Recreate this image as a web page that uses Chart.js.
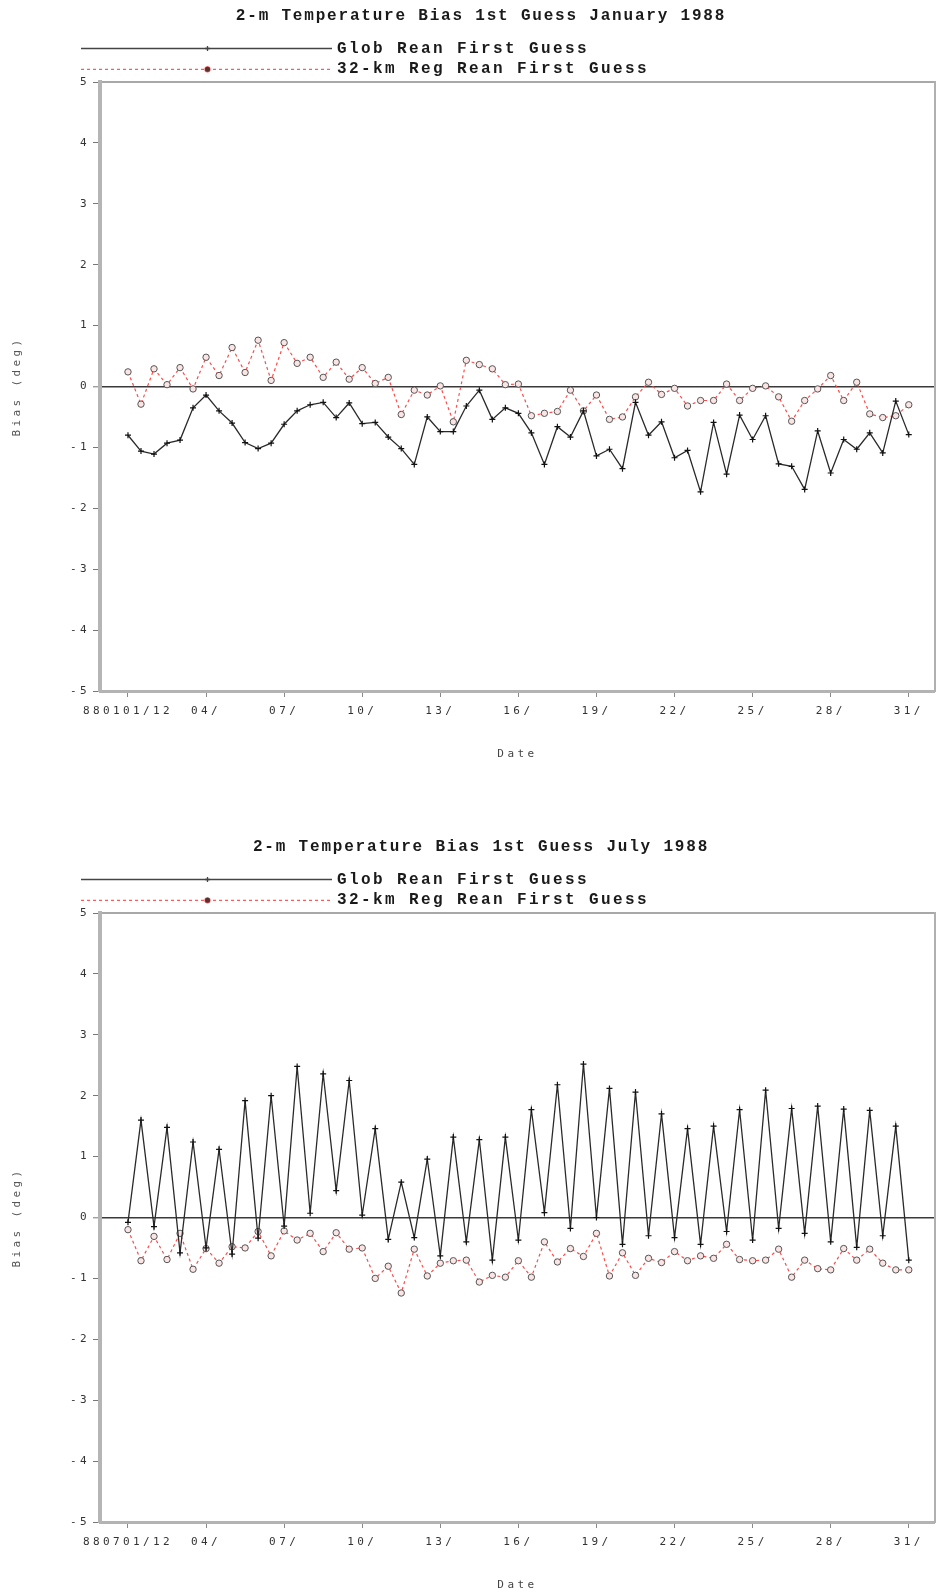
<!DOCTYPE html>
<html>
<head>
<meta charset="utf-8">
<title>2-m Temperature Bias 1st Guess 1988</title>
<script src="https://cdn.jsdelivr.net/npm/chart.js@4.4.0/dist/chart.umd.min.js"></script>
<style>
  html, body { margin: 0; padding: 0; background: #fff; overflow: hidden; }
  .panel { position: relative; width: 940px; height: 831px; }
</style>
</head>
<body>
<div class="panel"><canvas id="janChart" width="940" height="831"></canvas></div>
<div class="panel"><canvas id="julChart" width="940" height="831"></canvas></div>
<script>
// twice-daily values (00Z/12Z), starting at day 01 12Z
const janTickLabels = ['880101/12', '04/', '07/', '10/', '13/', '16/', '19/', '22/', '25/', '28/', '31/'];
const julTickLabels = ['880701/12', '04/', '07/', '10/', '13/', '16/', '19/', '22/', '25/', '28/', '31/'];
const seriesNames = ['Glob Rean First Guess', '32-km Reg Rean First Guess'];

const janGlob = [-0.80, -1.06, -1.11, -0.93, -0.88, -0.35, -0.14, -0.40, -0.60, -0.92,
                 -1.02, -0.93, -0.62, -0.40, -0.30, -0.26, -0.51, -0.27, -0.61, -0.59,
                 -0.83, -1.02, -1.28, -0.50, -0.74, -0.74, -0.32, -0.06, -0.54, -0.35,
                 -0.44, -0.76, -1.28, -0.66, -0.83, -0.40, -1.14, -1.03, -1.35, -0.26,
                 -0.80, -0.58, -1.17, -1.05, -1.73, -0.59, -1.44, -0.47, -0.87, -0.48,
                 -1.27, -1.31, -1.69, -0.73, -1.42, -0.87, -1.03, -0.76, -1.09, -0.24, -0.79];
const janReg = [0.24, -0.29, 0.29, 0.03, 0.31, -0.04, 0.48, 0.18, 0.64, 0.23,
                0.76, 0.10, 0.72, 0.38, 0.48, 0.15, 0.40, 0.12, 0.31, 0.05,
                0.15, -0.46, -0.06, -0.14, 0.01, -0.58, 0.43, 0.36, 0.29, 0.03,
                0.04, -0.48, -0.44, -0.41, -0.06, -0.40, -0.14, -0.54, -0.50, -0.17,
                0.07, -0.13, -0.03, -0.32, -0.23, -0.23, 0.04, -0.23, -0.03, 0.01,
                -0.17, -0.57, -0.23, -0.04, 0.18, -0.23, 0.07, -0.45, -0.51, -0.48, -0.30];

const julGlob = [-0.08, 1.60, -0.15, 1.48, -0.58, 1.24, -0.50, 1.12, -0.60, 1.92,
                 -0.34, 2.00, -0.14, 2.48, 0.07, 2.36, 0.44, 2.25, 0.04, 1.46,
                 -0.36, 0.58, -0.33, 0.96, -0.63, 1.32, -0.40, 1.28, -0.70, 1.32,
                 -0.37, 1.77, 0.08, 2.18, -0.18, 2.52, 0.00, 2.12, -0.44, 2.06,
                 -0.30, 1.70, -0.33, 1.46, -0.44, 1.50, -0.23, 1.77, -0.37, 2.09,
                 -0.18, 1.79, -0.26, 1.83, -0.40, 1.78, -0.49, 1.76, -0.30, 1.50, -0.70];
const julReg = [-0.20, -0.71, -0.31, -0.69, -0.26, -0.85, -0.51, -0.75, -0.48, -0.50,
                -0.23, -0.63, -0.22, -0.37, -0.26, -0.56, -0.25, -0.52, -0.50, -1.00,
                -0.80, -1.24, -0.52, -0.96, -0.75, -0.71, -0.70, -1.06, -0.95, -0.98,
                -0.71, -0.98, -0.40, -0.73, -0.51, -0.64, -0.26, -0.96, -0.58, -0.95,
                -0.67, -0.74, -0.56, -0.71, -0.63, -0.67, -0.44, -0.69, -0.71, -0.70,
                -0.52, -0.98, -0.70, -0.84, -0.86, -0.51, -0.70, -0.52, -0.75, -0.86, -0.86];

const monoFont = '"DejaVu Sans Mono", monospace';

// title + line legend drawn above the plot, like the original plotting package
const headerPlugin = {
    id: 'header',
    beforeDraw(chart) {
        chart.ctx.letterSpacing = '3.4px';
    },
    afterDraw(chart, args, opts) {
        const ctx = chart.ctx;
        ctx.save();
        ctx.fillStyle = '#1a1a1a';
        ctx.textBaseline = 'middle';
        ctx.letterSpacing = '1.8px';
        ctx.font = 'bold 16px "Liberation Mono", monospace';
        ctx.textAlign = 'center';
        ctx.fillText(opts.text, 481, 16);

        ctx.letterSpacing = '2.4px';
        ctx.textAlign = 'left';
        chart.data.datasets.forEach((ds, i) => {
            const y = 48.5 + i * 20.8;
            ctx.save();
            ctx.strokeStyle = ds.legendLine;
            ctx.lineWidth = 1.3;
            ctx.setLineDash(ds.borderDash || []);
            ctx.beginPath();
            ctx.moveTo(81, y);
            ctx.lineTo(332, y);
            ctx.stroke();
            ctx.setLineDash([]);
            Chart.helpers.drawPoint(ctx, {
                pointStyle: ds.pointStyle, radius: 2.5, borderWidth: 1.2, rotation: 0
            }, 207.5, y);
            ctx.fillStyle = ds.legendMark;
            ctx.strokeStyle = ds.legendMark;
            ctx.fill();
            ctx.restore();
            ctx.fillText(ds.label, 337, y);
        });
        ctx.restore();
    }
};

function makeChart(id, titleText, tickLabels, glob, reg) {
    const ctx = document.getElementById(id).getContext('2d');
    return new Chart(ctx, {
        type: 'line',
        data: {
            datasets: [{
                label: seriesNames[0],
                data: glob.map((v, i) => ({ x: i, y: v })),
                borderColor: '#2a2a2a',
                borderWidth: 1.3,
                pointStyle: 'cross',
                pointRadius: 3,
                pointBorderWidth: 1.2,
                pointBorderColor: '#111',
                tension: 0,
                legendLine: '#444',
                legendMark: '#111'
            }, {
                label: seriesNames[1],
                data: reg.map((v, i) => ({ x: i, y: v })),
                borderColor: '#ff4a4a',
                borderWidth: 1.2,
                borderDash: [3, 3],
                pointStyle: 'circle',
                pointRadius: 3.2,
                pointBorderWidth: 1,
                pointBorderColor: '#555',
                pointBackgroundColor: '#fbe4e4',
                tension: 0,
                legendLine: '#ff5a5a',
                legendMark: '#553333'
            }]
        },
        options: {
            responsive: false,
            animation: false,
            devicePixelRatio: 1,
            layout: { padding: { left: 0, top: 82, right: 1, bottom: 0 } },
            plugins: {
                legend: { display: false },
                title: { display: false },
                tooltip: { enabled: false },
                header: { text: titleText }
            },
            scales: {
                x: {
                    type: 'linear',
                    min: -2.15,
                    max: 62,
                    afterFit: s => { s.height = 140; },
                    afterBuildTicks: s => { s.ticks = tickLabels.map((_, k) => ({ value: k * 6 })); },
                    ticks: {
                        autoSkip: false,
                        maxRotation: 0,
                        padding: 8,
                        color: '#333',
                        font: { family: monoFont, size: 11 },
                        callback: v => tickLabels[Math.round(v / 6)]
                    },
                    grid: { drawOnChartArea: false, tickLength: 6, tickColor: '#888', tickWidth: 1 },
                    border: { color: '#b3b3b3', width: 3 },
                    title: {
                        display: true,
                        text: 'Date',
                        color: '#444',
                        font: { family: monoFont, size: 11 },
                        padding: { top: 0, bottom: 70 }
                    }
                },
                xTop: {
                    type: 'linear',
                    position: 'top',
                    afterFit: s => { s.height = 0; },
                    ticks: { display: false },
                    grid: { display: false },
                    border: { color: '#a8a8a8', width: 2 }
                },
                y: {
                    min: -5,
                    max: 5,
                    afterFit: s => { s.width = 100; },
                    ticks: {
                        stepSize: 1,
                        padding: 3,
                        color: '#333',
                        font: { family: monoFont, size: 11 }
                    },
                    grid: {
                        color: c => c.tick && c.tick.value === 0 ? '#3a3a3a' : 'rgba(0,0,0,0)',
                        lineWidth: c => c.tick && c.tick.value === 0 ? 1.6 : 1,
                        tickColor: '#777',
                        tickWidth: 1,
                        tickLength: 7
                    },
                    border: { color: '#b5b5b5', width: 4 },
                    title: {
                        display: true,
                        text: 'Bias (deg)',
                        color: '#555',
                        font: { family: monoFont, size: 11 },
                        padding: { top: 11, bottom: 0 }
                    }
                },
                yRight: {
                    type: 'linear',
                    position: 'right',
                    afterFit: s => { s.width = 0; },
                    ticks: { display: false },
                    grid: { display: false },
                    border: { color: '#b0b0b0', width: 2 }
                }
            }
        },
        plugins: [headerPlugin]
    });
}

makeChart('janChart', '2-m Temperature Bias 1st Guess January 1988', janTickLabels, janGlob, janReg);
makeChart('julChart', '2-m Temperature Bias 1st Guess July 1988', julTickLabels, julGlob, julReg);
</script>
</body>
</html>
